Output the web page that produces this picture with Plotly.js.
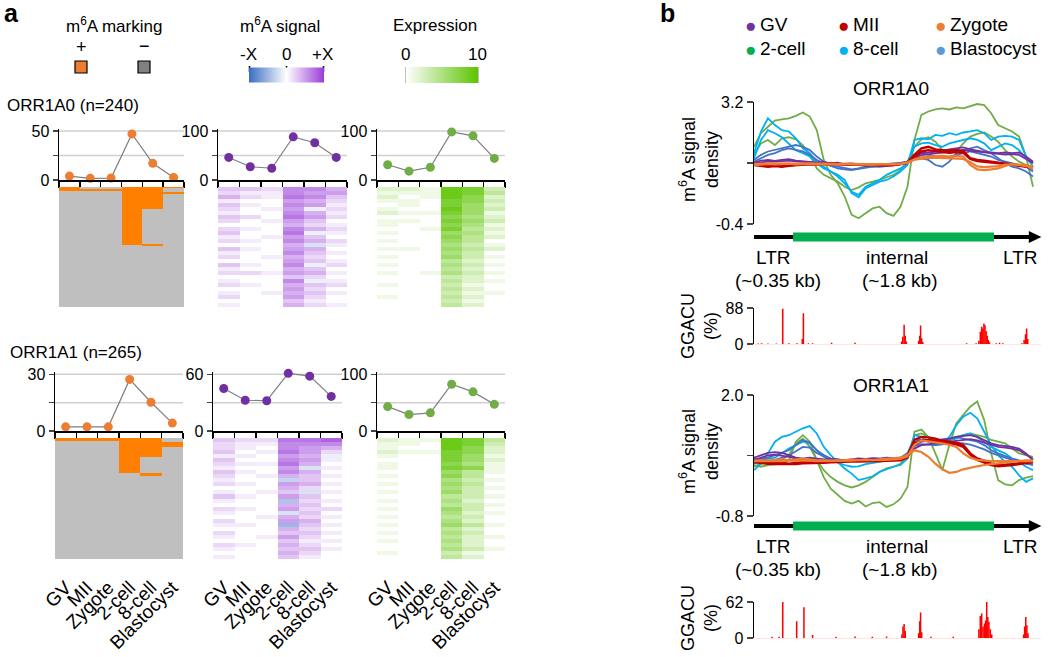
<!DOCTYPE html>
<html><head><meta charset="utf-8">
<script src="https://cdn.plot.ly/plotly-3.0.1.min.js"></script>
<style>html,body{margin:0;padding:0;background:#fff}</style>
</head><body><div id="chart" style="width:1050px;height:657px"></div>
<script>
const W = 1050, H = 657;
const stages = ['GV','MII','Zygote','2-cell','8-cell','Blastocyst'];

// ---- panel a: line chart values (%) ----
const markA0 = [4, 1.7, 2, 47, 17, 2.5];
const sigA0  = [46, 27, 24, 88, 76, 46];
const exprA0 = [31, 18, 26, 98, 90, 44];
const markA1 = [2.2, 2.2, 2.2, 27.3, 15.2, 4.2];
const sigA1  = [45, 32.5, 32, 61, 58, 36.6];
const exprA1 = [43, 29, 32, 82.5, 69, 47];
const nA0 = 240, nA1 = 265;

// m6A-marked row ranges [start,end) per stage
const markRowsA0 = [[[0,8]], [[4,7]], [[4,7]], [[0,116]], [[0,44],[114,117]], [[0,2],[9,13]]];
const markRowsA1 = [[[0,7]], [[0,7]], [[0,7]], [[0,77]], [[0,42],[77,84]], [[9,20],[41,42]]];

// heatmap rows (GV, MII, Zygote, 2-cell, 8-cell, Blastocyst)
const sigHeatA0 = [
[3,3,2,6,6,4],[2,1,1,6,5,5],[4,2,1,7,6,3],[1,0,0,5,4,2],[3,1,0,6,5,1],[2,0,1,5,-1,2],
[1,0,0,6,4,1],[3,2,0,7,5,2],[2,0,1,5,3,0],[0,0,0,4,2,1],[2,1,0,6,4,2],[3,0,0,7,-1,1],
[1,0,1,5,3,0],[2,1,0,6,4,2],[0,0,0,4,-2,1],[3,1,0,5,4,0],[1,0,0,6,3,1],[2,0,1,4,2,0],
[0,0,0,5,3,1],[3,1,0,6,-1,2],[1,0,0,4,3,0],[2,2,1,5,4,1],[0,0,0,3,2,0],[1,0,0,6,-1,1],
[2,1,0,4,3,2],[0,0,0,5,2,0],[1,0,1,4,3,1],[2,0,0,5,2,0],[0,0,0,3,1,0],[1,0,0,4,2,1]];
const exprHeatA0 = [
[2,2,1,9,8,3],[1,1,1,9,8,4],[2,0,1,9,7,2],[1,1,0,8,7,3],[0,1,0,8,6,2],[1,0,0,9,6,3],
[2,1,1,8,6,1],[0,0,0,7,5,2],[1,1,0,8,6,3],[1,0,0,7,5,1],[0,0,1,8,4,2],[1,0,0,6,5,1],
[0,0,0,7,4,2],[1,0,0,6,4,0],[0,0,0,5,3,1],[1,1,0,6,4,2],[0,0,0,5,3,0],[1,0,0,6,3,1],
[0,0,0,4,2,0],[1,0,0,5,3,1],[0,0,0,4,2,0],[1,0,1,5,3,1],[0,0,0,3,2,0],[0,0,0,4,2,1],
[1,0,0,3,1,0],[0,0,0,4,2,0],[0,0,0,3,1,1],[1,0,0,4,2,0],[0,0,0,3,1,0],[0,0,0,4,2,0]];
const sigHeatA1 = [
[3,2,2,7,7,8],[2,1,1,6,6,6],[2,1,0,6,5,4],[3,0,1,7,5,2],[1,1,0,5,4,-1],[3,0,0,6,5,1],
[2,1,1,7,4,0],[1,0,0,5,-2,1],[3,1,0,6,4,0],[2,0,1,4,3,1],[1,0,0,-3,3,0],[2,1,0,5,4,1],
[0,0,0,4,2,0],[1,0,1,3,-2,1],[3,1,0,5,3,0],[1,0,0,-4,2,1],[0,0,0,4,3,0],[2,1,0,5,2,2],
[1,0,0,-2,3,0],[0,0,1,4,2,1],[2,0,0,5,4,0],[1,1,0,-5,3,1],[0,0,0,4,2,0],[2,0,0,3,3,1],
[1,0,1,5,2,0],[0,0,0,3,1,1],[2,1,0,4,2,0],[1,0,0,3,3,1],[0,0,0,4,2,0],[1,0,0,3,1,0]];
const exprHeatA1 = [
[2,1,1,9,8,4],[1,1,0,9,8,3],[1,0,0,9,7,2],[2,1,1,8,7,2],[1,0,0,8,6,1],[0,0,0,8,6,2],
[1,0,0,7,5,1],[1,0,0,8,7,1],[0,0,0,6,4,1],[1,0,0,7,4,0],[0,0,0,5,3,1],[1,0,0,6,4,0],
[0,0,0,5,3,1],[1,0,0,6,3,0],[0,0,0,4,3,1],[1,0,0,5,2,0],[0,0,0,4,3,1],[1,0,0,6,3,0],
[0,0,0,5,2,1],[1,0,0,4,3,0],[0,0,0,5,2,0],[1,0,0,6,4,1],[0,0,0,4,2,0],[1,0,0,5,3,0],
[0,0,0,4,2,1],[1,0,0,5,2,0],[0,0,0,4,2,0],[0,0,0,5,3,1],[1,0,0,3,1,0],[0,0,0,4,2,0]];

// ---- panel b: metaplot positions (% of element) and densities ----
const pos = [0,2.5,5,7.5,10,12.5,15,17.5,20,22.5,25,27.5,30,32.5,35,37.5,40,42.5,45,47.5,50,52.5,55,57.5,60,62.5,65,67.5,70,72.5,75,77.5,80,82.5,85,87.5,90,92.5,95,97.5,100];

const b0_2c1 = [1.88,2.28,2.47,2.65,2.69,2.72,2.79,2.89,2.77,2.37,1.49,1.05,0.80,0.41,-0.13,-0.23,-0.08,0.06,0.11,-0.08,-0.16,0.11,0.70,2.08,2.82,2.92,2.98,3.01,2.98,3.04,3.01,3.08,3.14,3.11,2.87,2.52,2.42,2.33,2.18,1.59,0.70];
const b0_2c2 = [1.64,1.98,2.08,1.93,2.13,2.16,2.10,1.93,1.64,1.24,1.05,0.95,0.85,0.70,0.60,0.68,0.80,0.85,0.90,0.98,1.05,1.19,1.44,1.88,2.10,2.16,2.03,1.78,1.69,1.74,1.98,2.18,2.26,2.30,2.18,2.03,1.78,1.59,1.44,1.34,1.19];
const b0_8c1 = [1.69,2.33,2.72,2.52,2.37,2.33,2.13,1.83,1.69,1.44,1.29,1.15,1.05,0.90,0.51,0.39,0.65,0.75,0.85,0.90,1.00,1.15,1.34,2.08,2.13,2.10,2.23,2.20,2.28,2.23,2.30,2.33,2.37,2.28,2.08,2.18,2.20,2.18,2.08,1.59,1.29];
const b0_8c2 = [1.54,2.08,2.37,2.28,2.16,1.98,1.78,1.69,1.59,1.39,1.24,1.15,1.00,0.80,0.55,0.46,0.70,0.80,0.90,1.05,1.15,1.24,1.39,1.88,1.98,2.00,1.93,1.88,1.98,2.03,2.08,2.13,2.08,1.98,1.78,1.88,1.98,1.93,1.78,1.54,1.39];
const b0_Bl1 = [1.49,1.64,1.74,1.78,1.83,1.88,1.93,1.88,1.78,1.59,1.44,1.34,1.29,1.24,1.21,1.24,1.29,1.31,1.29,1.31,1.34,1.37,1.44,1.59,1.54,1.49,1.34,1.29,1.44,1.69,1.78,1.83,1.88,1.78,1.69,1.54,1.39,1.29,1.24,1.15,1.00];
const b0_Bl2 = [1.44,1.54,1.64,1.69,1.78,1.83,1.78,1.74,1.64,1.49,1.39,1.31,1.24,1.21,1.19,1.23,1.27,1.29,1.31,1.34,1.36,1.39,1.44,1.64,1.69,1.64,1.59,1.54,1.59,1.64,1.69,1.74,1.69,1.64,1.59,1.49,1.44,1.39,1.34,1.29,1.15];
const b0_GV1 = [1.41,1.47,1.49,1.46,1.49,1.51,1.47,1.44,1.43,1.41,1.43,1.39,1.41,1.37,1.39,1.36,1.37,1.34,1.36,1.37,1.39,1.39,1.44,1.59,1.69,1.71,1.73,1.76,1.80,1.83,1.86,1.80,1.76,1.73,1.71,1.69,1.71,1.69,1.71,1.59,1.44];
const b0_GV2 = [1.38,1.42,1.45,1.44,1.46,1.47,1.45,1.43,1.41,1.40,1.41,1.38,1.39,1.36,1.37,1.35,1.36,1.34,1.35,1.36,1.37,1.38,1.42,1.55,1.63,1.66,1.68,1.70,1.74,1.76,1.78,1.76,1.72,1.70,1.69,1.66,1.65,1.66,1.64,1.52,1.40];
const b0_MII1 = [1.34,1.31,1.29,1.31,1.29,1.32,1.34,1.36,1.37,1.36,1.37,1.39,1.37,1.36,1.37,1.35,1.34,1.35,1.34,1.33,1.34,1.37,1.41,1.64,1.83,1.88,1.80,1.78,1.76,1.78,1.76,1.54,1.49,1.47,1.44,1.39,1.37,1.34,1.31,1.29,1.27];
const b0_MII2 = [1.36,1.33,1.32,1.33,1.31,1.33,1.35,1.36,1.36,1.35,1.36,1.37,1.36,1.35,1.35,1.34,1.34,1.34,1.33,1.33,1.34,1.36,1.40,1.58,1.74,1.78,1.74,1.72,1.70,1.72,1.70,1.52,1.46,1.44,1.42,1.38,1.36,1.34,1.32,1.30,1.29];
const b0_Zyg1 = [1.34,1.36,1.37,1.36,1.37,1.38,1.36,1.37,1.38,1.36,1.37,1.36,1.35,1.37,1.36,1.35,1.36,1.35,1.36,1.35,1.36,1.37,1.40,1.51,1.57,1.59,1.61,1.61,1.59,1.61,1.59,1.34,1.21,1.19,1.21,1.24,1.31,1.37,1.34,1.31,1.24];
const b0_Zyg2 = [1.37,1.38,1.38,1.39,1.38,1.39,1.38,1.38,1.39,1.38,1.38,1.37,1.37,1.38,1.37,1.37,1.36,1.36,1.37,1.36,1.37,1.38,1.42,1.50,1.53,1.55,1.56,1.55,1.54,1.53,1.52,1.42,1.30,1.28,1.29,1.31,1.35,1.36,1.35,1.33,1.30];

const b1_2c1 = [0.38,0.34,0.38,0.40,0.41,0.49,0.92,1.07,0.92,0.49,0.10,-0.17,-0.32,-0.45,-0.51,-0.45,-0.58,-0.50,-0.48,-0.59,-0.53,-0.40,-0.13,1.15,1.20,1.03,0.65,0.26,0.84,1.34,1.54,1.73,1.85,1.42,0.65,0.03,-0.07,-0.09,0.03,0.09,0.12];
const b1_2c2 = [0.34,0.41,0.45,0.48,0.51,0.61,0.88,0.99,0.80,0.49,0.26,0.10,-0.01,-0.09,-0.14,-0.09,-0.01,0.10,0.22,0.30,0.34,0.41,0.61,1.07,1.11,1.03,0.92,0.88,0.96,1.03,1.07,1.11,1.07,1.03,0.96,0.92,0.88,0.76,0.65,0.61,0.57];
const b1_8c1 = [0.26,0.41,0.65,0.92,1.03,1.07,1.15,1.23,1.28,1.11,0.80,0.61,0.45,0.30,0.18,0.03,0.07,0.12,0.22,0.28,0.34,0.38,0.53,1.07,1.03,0.92,0.84,0.89,1.03,1.30,1.50,1.59,1.46,1.15,0.84,0.61,0.45,0.34,0.14,-0.01,0.07];
const b1_8c2 = [0.41,0.49,0.53,0.55,0.65,0.76,0.84,0.92,0.88,0.72,0.57,0.49,0.43,0.38,0.34,0.35,0.40,0.43,0.45,0.48,0.49,0.53,0.65,0.99,0.96,0.92,0.88,0.92,0.96,0.99,1.07,1.11,1.03,0.92,0.80,0.72,0.65,0.53,0.45,0.34,0.26];
const b1_Bl1 = [0.49,0.53,0.55,0.61,0.66,0.72,0.84,0.96,0.90,0.72,0.61,0.53,0.51,0.48,0.48,0.49,0.48,0.49,0.51,0.52,0.53,0.55,0.65,0.92,0.96,0.94,0.92,0.94,0.99,1.03,0.99,0.96,0.92,0.84,0.72,0.65,0.59,0.53,0.49,0.41,0.38];
const b1_Bl2 = [0.52,0.50,0.48,0.50,0.55,0.60,0.70,0.80,0.78,0.66,0.58,0.52,0.50,0.49,0.47,0.48,0.47,0.48,0.49,0.50,0.51,0.52,0.60,0.82,0.86,0.85,0.84,0.86,0.88,0.90,0.88,0.85,0.80,0.74,0.66,0.60,0.55,0.50,0.46,0.42,0.40];
const b1_GV1 = [0.55,0.61,0.66,0.68,0.66,0.61,0.55,0.53,0.55,0.53,0.51,0.52,0.51,0.49,0.51,0.53,0.52,0.54,0.53,0.55,0.54,0.55,0.61,0.84,0.92,0.94,0.96,0.97,0.99,1.03,1.05,1.07,1.03,0.96,0.88,0.84,0.82,0.80,0.76,0.65,0.49];
const b1_GV2 = [0.50,0.55,0.60,0.62,0.60,0.57,0.53,0.52,0.53,0.52,0.50,0.51,0.50,0.49,0.50,0.51,0.51,0.52,0.52,0.53,0.53,0.54,0.58,0.76,0.84,0.86,0.88,0.90,0.92,0.95,0.97,0.98,0.95,0.90,0.84,0.80,0.78,0.76,0.72,0.62,0.52];
const b1_MII1 = [0.48,0.45,0.44,0.45,0.43,0.41,0.43,0.45,0.44,0.46,0.45,0.46,0.48,0.47,0.48,0.49,0.48,0.48,0.49,0.51,0.51,0.52,0.59,0.96,1.03,1.02,0.99,0.94,0.92,0.89,0.84,0.65,0.53,0.48,0.41,0.38,0.38,0.40,0.41,0.44,0.48];
const b1_MII2 = [0.44,0.42,0.41,0.40,0.40,0.39,0.40,0.42,0.42,0.43,0.43,0.44,0.45,0.45,0.46,0.46,0.46,0.47,0.47,0.48,0.48,0.49,0.55,0.88,0.95,0.96,0.94,0.90,0.88,0.86,0.80,0.62,0.50,0.44,0.38,0.35,0.36,0.38,0.40,0.42,0.45];
const b1_Zyg1 = [0.48,0.49,0.48,0.49,0.51,0.49,0.51,0.53,0.51,0.49,0.49,0.48,0.49,0.49,0.51,0.49,0.51,0.49,0.51,0.52,0.53,0.55,0.61,0.72,0.68,0.57,0.41,0.28,0.20,0.22,0.28,0.32,0.35,0.38,0.40,0.41,0.43,0.45,0.48,0.49,0.49];
const b1_Zyg2 = [0.47,0.47,0.46,0.47,0.47,0.48,0.48,0.49,0.48,0.47,0.47,0.47,0.48,0.48,0.48,0.49,0.49,0.49,0.50,0.50,0.51,0.52,0.58,0.85,0.95,0.93,0.90,0.88,0.85,0.80,0.65,0.55,0.50,0.48,0.47,0.47,0.47,0.47,0.47,0.47,0.47];

// GGACU motif frequency (%)
const g0_pos = [1.5,2.7,5,8,10.3,12.5,15.4,17.3,17.7,19.5,21,27.8,36.2,52.9,53.3,53.8,54.2,54.6,59.0,59.4,59.7,60.1,60.5,76.2,79.6,80.6,81.1,81.6,82.0,82.4,82.8,83.2,83.6,84.0,84.4,86.8,88.0,89.2,96.0,96.8,97.3,97.7,98.1];
const g0_val = [1.5,2,1.5,1.5,86,2,2,12,75,2,2,3,3,6,18,47,20,6,8,20,45,14,5,2,2,8,30,42,38,50,46,32,20,10,4,2,3,2,2,10,24,38,12];
const g1_pos = [6.5,9,10.3,15.3,17.9,21,29.4,36.2,42.4,47.5,53.0,53.4,53.8,54.2,59.0,59.4,59.7,60.1,63.4,71.4,80.6,81.1,81.6,82.1,82.6,83.0,83.4,83.8,84.2,84.7,85.2,96.6,97.0,97.4,97.8,98.2];
const g1_val = [2,2,62,29,53,5,2,2.5,2,2.5,6,20,24,12,8,29,44,10,2,2,15,38,42,20,25,30,62,36,28,15,6,6,20,36,22,8];

// schematic segments (% of element)
const ltrLeft = [0, 14], internalSeg = [14, 86], ltrRight = [86, 100];

// ---- colours ----
const C = {GV:'#7030A0', MII:'#C00000', Zygote:'#ED7D31', c2:'#70AD47', c8:'#00B0F0', Bl:'#4472C4'};
const legendDots = [['GV','#7030A0'],['MII','#C00000'],['Zygote','#ED7D31'],['2-cell','#00B050'],['8-cell','#00B0F0'],['Blastocyst','#5B9BD5']];

// ---- helpers ----
const fx = p => p / W;
const fy = p => 1 - p / H;
const FONT = 'Arial, "Liberation Sans", sans-serif';
const layout = {
  width: W, height: H, margin: {l:0, r:0, t:0, b:0},
  paper_bgcolor: '#fff', plot_bgcolor: 'rgba(0,0,0,0)',
  font: {family: FONT, color: '#000', size: 16},
  showlegend: false, annotations: [], shapes: []
};
const traces = [];
function ax(n, xd, yd, xo, yo) {
  const xs = n === 1 ? 'xaxis' : 'xaxis' + n, ys = n === 1 ? 'yaxis' : 'yaxis' + n;
  layout[xs] = Object.assign({domain: [fx(xd[0]), fx(xd[1])], anchor: 'y' + (n === 1 ? '' : n), fixedrange: true, zeroline: false, showgrid: false}, xo);
  layout[ys] = Object.assign({domain: [fy(yd[1]), fy(yd[0])], anchor: 'x' + (n === 1 ? '' : n), fixedrange: true, zeroline: false, showgrid: false}, yo);
  return [n === 1 ? 'x' : 'x' + n, n === 1 ? 'y' : 'y' + n];
}
function ann(text, x, y, o) {
  layout.annotations.push(Object.assign({text, x: fx(x), y: fy(y), xref: 'paper', yref: 'paper', showarrow: false, xanchor: 'center', yanchor: 'middle', font: {size: 17}}, o || {}));
}
function pline(x0, y0, x1, y1, w) {
  layout.shapes.push({type: 'line', xref: 'paper', yref: 'paper', x0: fx(x0), y0: fy(y0), x1: fx(x1), y1: fy(y1), line: {color: '#000', width: w || 1.5}});
}

// ---- panel a ----
let axN = 1;
const stageIdx = stages.map((s, i) => i);          // category positions
const boundaries = [-0.5, 0.5, 1.5, 2.5, 3.5, 4.5, 5.5];
function lineChart(xd, yd, vals, top, color) {
  const [xa, ya] = ax(axN++, xd, yd,
    {type: 'linear', range: [-0.5, 5.5], tickmode: 'array', tickvals: boundaries, ticks: 'outside', ticklen: 6, tickwidth: 1.5, tickcolor: '#000', showline: true, linewidth: 1.5, linecolor: '#000', showticklabels: false},
    {range: [0, top * 1.04], tickmode: 'array', tickvals: [0, top / 2, top], ticktext: ['0', ' ', String(top)], ticks: 'outside', ticklen: 5, tickwidth: 1.5, showline: true, linewidth: 1.5, linecolor: '#000', showgrid: false, tickfont: {size: 16}});
  [top / 2, top].forEach(v => layout.shapes.push({type: 'line', layer: 'below', xref: xa + ' domain', yref: ya, x0: 0, x1: 1, y0: v, y1: v, line: {color: '#D0D0D0', width: 1.5}}));
  traces.push({type: 'scatter', mode: 'lines+markers', x: stageIdx, y: vals, text: stages, xaxis: xa, yaxis: ya, cliponaxis: false,
    line: {color: '#7F7F7F', width: 1.2}, marker: {color: color, size: 9}});
}
function heat(xd, yd, z, cs, zmin, zmax, labels, cbar) {
  const [xa, ya] = ax(axN++, xd, yd,
    {type: 'category', range: [-0.5, 5.5], tickmode: 'array', tickvals: stages, showticklabels: labels, tickangle: -45, ticks: labels ? 'outside' : '', ticklen: 9, tickcolor: 'rgba(0,0,0,0)', tickfont: {size: 19}},
    {autorange: 'reversed', visible: false});
  const t = {type: 'heatmap', x: stages, z: z, xaxis: xa, yaxis: ya, colorscale: cs, zmin, zmax, showscale: !!cbar};
  if (cbar) t.colorbar = cbar;
  traces.push(t);
}
function buildMark(n, rows) {
  const z = [];
  for (let r = 0; r < n; r++) z.push(rows.map(iv => iv.some(([a, b]) => r >= a && r < b) ? 1 : 0));
  return z;
}
const csMark = [[0, '#BFBFBF'], [1, '#FF8000']];
const csSig = [[0, '#3A6CC4'], [0.5, '#FFFFFF'], [1, '#9A3CD8']];
const csExpr = [[0, '#FFFFFF'], [1, '#5CC400']];

const g1x = [[59, 184], [218, 347], [377, 505]];
const g2x = [[55, 183], [213, 342], [377, 505]];
lineChart(g1x[0], [129, 180], markA0, 50, '#ED7D31');
lineChart(g1x[1], [129, 180], sigA0, 100, '#7030A0');
lineChart(g1x[2], [129, 180], exprA0, 100, '#70AD47');
heat(g1x[0], [187, 307], buildMark(nA0, markRowsA0), csMark, 0, 1, false);
heat(g1x[1], [187, 307], sigHeatA0, csSig, -10, 10, false,
  {orientation: 'h', x: fx(286.5), xanchor: 'center', y: fy(75.5), yanchor: 'middle', len: 75, lenmode: 'pixels', thickness: 15, outlinewidth: 0, ticks: '', showticklabels: false, xpad: 0, ypad: 0});
heat(g1x[2], [187, 307], exprHeatA0, csExpr, 0, 10, false,
  {orientation: 'h', x: fx(442), xanchor: 'center', y: fy(75), yanchor: 'middle', len: 72, lenmode: 'pixels', thickness: 16, outlinewidth: 0, ticks: '', showticklabels: false, xpad: 0, ypad: 0});
lineChart(g2x[0], [372, 431], markA1, 30, '#ED7D31');
lineChart(g2x[1], [372, 431], sigA1, 60, '#7030A0');
lineChart(g2x[2], [372, 431], exprA1, 100, '#70AD47');
heat(g2x[0], [438, 559], buildMark(nA1, markRowsA1), csMark, 0, 1, true);
heat(g2x[1], [438, 559], sigHeatA1, csSig, -10, 10, true);
heat(g2x[2], [438, 559], exprHeatA1, csExpr, 0, 10, true);

// colour-key tick marks
pline(249.5, 66, 249.5, 72); pline(286.5, 66, 286.5, 72); pline(323.5, 66, 323.5, 72);
pline(406.5, 67, 406.5, 83); pline(477.5, 67, 477.5, 83);

ann('<b>a</b>', 2, 13, {xanchor: 'left', font: {size: 25}});
ann('m<sup>6</sup>A marking', 114, 25);
ann('+', 81, 47, {font: {size: 18}});
ann('−', 144, 46, {font: {size: 18}});
ann('m<sup>6</sup>A signal', 280, 25);
ann('-X', 248, 54);
ann('0', 286.5, 54);
ann('+X', 322, 54);
ann('Expression', 435, 25);
ann('0', 405, 54);
ann('10', 477, 54);
ann('ORR1A0 (n=240)', 5, 105, {xanchor: 'left'});
ann('ORR1A1 (n=265)', 8, 352, {xanchor: 'left'});
layout.shapes.push({type: 'rect', xref: 'paper', yref: 'paper', x0: fx(75), x1: fx(87), y0: fy(73), y1: fy(61), fillcolor: '#ED7D31', line: {color: '#000', width: 1.2}});
layout.shapes.push({type: 'rect', xref: 'paper', yref: 'paper', x0: fx(138), x1: fx(150), y0: fy(73), y1: fy(61), fillcolor: '#808080', line: {color: '#000', width: 1.2}});

// ---- panel b ----
const bX = [754, 1041.4];
function metaplot(yd, lo, mid, hi, series, title, titleY, ytitleY) {
  const [xa, ya] = ax(axN++, bX, yd, {range: [0, 103], visible: false},
    {range: [lo, hi], tickmode: 'array', tickvals: [lo, mid, hi], ticktext: [lo.toFixed(1), ' ', hi.toFixed(1)], ticks: 'outside', ticklen: 6, tickwidth: 1.5, showline: true, linewidth: 1.5, linecolor: '#000', tickfont: {size: 16}});
  series.forEach(([vals, col, w]) => traces.push({type: 'scatter', mode: 'lines', x: pos, y: vals, xaxis: xa, yaxis: ya, line: {color: col, width: w || 1.8}, cliponaxis: false}));
  ann(title, 891, titleY, {font: {size: 19}});
  ann('m<sup>6</sup>A signal<br>density', 699, ytitleY, {textangle: -90, font: {size: 18}});
  return xa;
}
function schematic(xa, py) {
  layout.shapes.push({type: 'line', xref: xa, yref: 'paper', x0: ltrLeft[0], x1: 99.5, y0: fy(py), y1: fy(py), line: {color: '#000', width: 4}});
  layout.shapes.push({type: 'rect', xref: xa, yref: 'paper', x0: internalSeg[0], x1: internalSeg[1], y0: fy(py + 4.5), y1: fy(py - 4.5), fillcolor: '#00B050', line: {width: 0}});
  layout.shapes.push({type: 'path', xref: xa, yref: 'paper', path: `M 98.5 ${fy(py - 6)} L 103 ${fy(py)} L 98.5 ${fy(py + 6)} Z`, fillcolor: '#000', line: {width: 0}});
  ann('LTR', 773, py + 20, {font: {size: 19}});
  ann('internal', 897, py + 20, {font: {size: 19}});
  ann('LTR', 1020, py + 20, {font: {size: 19}});
  ann('(~0.35 kb)', 778, py + 43, {font: {size: 19}});
  ann('(~1.8 kb)', 900, py + 43, {font: {size: 19}});
}
function motif(yd, top, p, v, ytitleY) {
  const [xa, ya] = ax(axN++, bX, yd, {range: [0, 103], showticklabels: false, showline: true, linecolor: '#FFE4E4', linewidth: 1},
    {range: [0, top], tickmode: 'array', tickvals: [0, top], ticks: 'outside', ticklen: 6, tickwidth: 1.5, showline: true, linewidth: 1.5, linecolor: '#000', tickfont: {size: 16}});
  traces.push({type: 'bar', x: p, y: v, xaxis: xa, yaxis: ya, width: 0.55, marker: {color: '#FF0000', line: {width: 0}}});
  ann('GGACU<br>(%)', 699, ytitleY, {textangle: -90, font: {size: 18}});
}
const s0 = [[b0_2c1, C.c2], [b0_2c2, C.c2], [b0_8c1, C.c8], [b0_8c2, C.c8], [b0_Bl1, C.Bl], [b0_Bl2, C.Bl],
  [b0_GV1, C.GV], [b0_GV2, C.GV], [b0_MII1, C.MII, 2.4], [b0_MII2, C.MII, 2.4], [b0_Zyg1, C.Zygote, 2.2], [b0_Zyg2, C.Zygote, 2.2]];
const s1 = [[b1_2c1, C.c2], [b1_2c2, C.c2], [b1_8c1, C.c8], [b1_8c2, C.c8], [b1_Bl1, C.Bl], [b1_Bl2, C.Bl],
  [b1_GV1, C.GV], [b1_GV2, C.GV], [b1_MII1, C.MII, 2.4], [b1_MII2, C.MII, 2.4], [b1_Zyg1, C.Zygote, 2.2], [b1_Zyg2, C.Zygote, 2.2]];
const xb1 = metaplot([102, 224], -0.4, 1.4, 3.2, s0, 'ORR1A0', 88, 160);
schematic(xb1, 237);
motif([308, 344], 88, g0_pos, g0_val, 326);
const xb2 = metaplot([395, 516], -0.8, 0.6, 2.0, s1, 'ORR1A1', 385, 452);
schematic(xb2, 526);
motif([602, 638], 62, g1_pos, g1_val, 618);

ann('<b>b</b>', 658, 13, {xanchor: 'left', font: {size: 25}});
const dotX = [750, 843, 940], dotY = [24, 48];
legendDots.forEach(([name, col], i) => {
  const x = dotX[i % 3], y = dotY[Math.floor(i / 3)];
  ann('●', x, y + 1, {font: {size: 19, color: col}});
  ann(name, x + 8, y, {xanchor: 'left', font: {size: 19}});
});

Plotly.newPlot('chart', traces, layout, {staticPlot: true});
</script>
</body></html>
